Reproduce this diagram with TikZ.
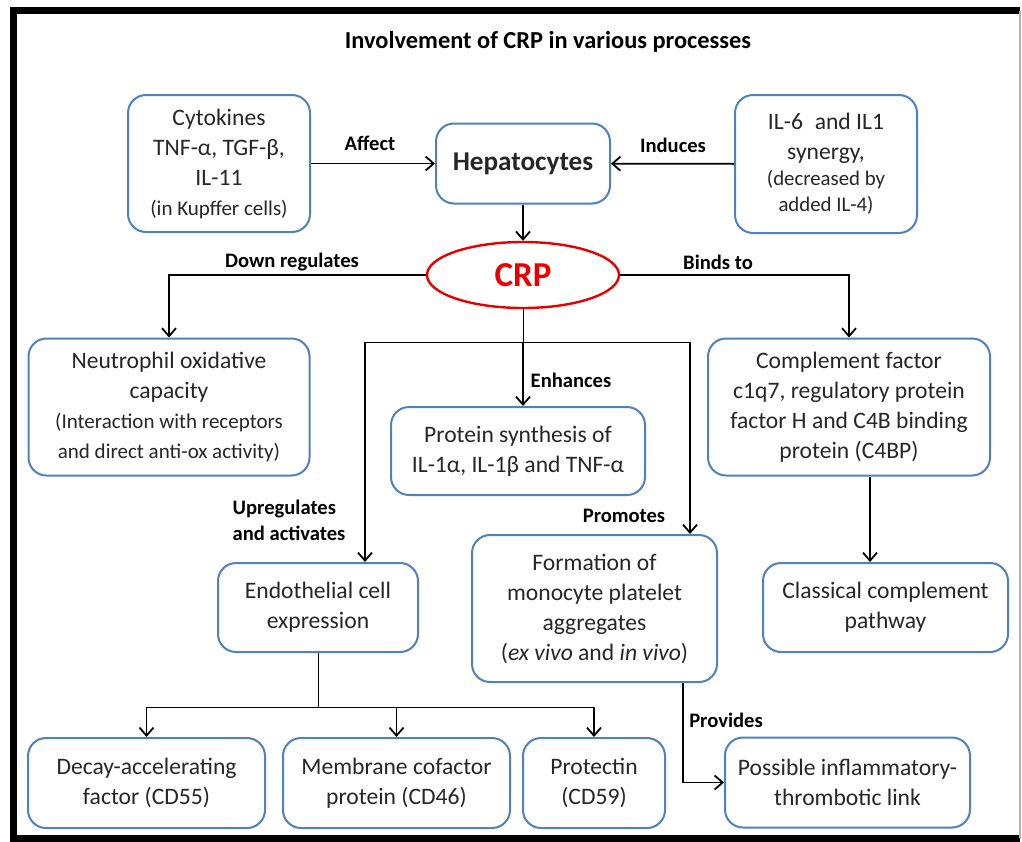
\documentclass[tikz,border=0pt]{standalone}
\usepackage{fontspec}
\setmainfont{Carlito}
\usepackage{tikz}
\usetikzlibrary{arrows.meta,shapes.geometric}
\definecolor{boxblue}{RGB}{79,129,189}
\definecolor{crpred}{RGB}{232,0,0}
\newcommand{\smalltxt}[1]{{\fontsize{10.5}{14}\selectfont #1}}
\tikzset{
  box/.style={draw=boxblue,line width=1pt,rounded corners=9pt,align=center,inner sep=0pt,
    text=black!85,font=\fontsize{11.8}{15}\selectfont},
  crpnode/.style={draw=crpred,ellipse,line width=1.2pt,inner sep=0pt,text=crpred,
    font=\fontsize{17.5}{20}\selectfont\bfseries},
  lbl/.style={font=\fontsize{10.3}{13}\selectfont\bfseries},
  link/.style={->,line width=0.9pt}
}

\begin{document}
\begin{tikzpicture}[x=0.5pt,y=-0.5pt,>={Straight Barb[length=4pt,width=7pt]}]
  \useasboundingbox (0,0) rectangle (1022,841);
  \fill[white] (0,0) rectangle (1022,841);
  \draw[line width=3.5pt] (1020,10.5) -- (13,10.5) -- (13,838) -- (1020,838);
  \draw[gray!60,line width=0.6pt] (1020,10.5) -- (1020,838);

  \node[font=\fontsize{12.2}{14}\selectfont\bfseries] (title) at (548,42) {Involvement of CRP in various processes};

  \node[box,minimum width=91pt,minimum height=68.5pt] (cyto) at (219,163.5)
    {Cytokines\\TNF-α, TGF-β,\\IL-11\\\smalltxt{(in Kupffer cells)}};
  \node[box,minimum width=87pt,minimum height=40pt,font=\fontsize{13.6}{16}\selectfont\bfseries] (hep) at (523,163.5) {Hepatocytes};
  \node[box,minimum width=91pt,minimum height=69pt] (il6) at (826,164)
    {IL-6\enspace and IL1\\synergy,\\[-2pt]{\fontsize{10.4}{13}\selectfont(decreased by}\\[-2pt]{\fontsize{10.4}{13}\selectfont added IL-4)}};
  \node[crpnode,minimum width=96pt,minimum height=33pt] (crp) at (523,275) {CRP};

  \node[box,minimum width=140.5pt,minimum height=68.5pt] (neut) at (169,407)
    {Neutrophil oxidative\\capacity\\\smalltxt{(Interaction with receptors}\\\smalltxt{and direct anti-ox activity)}};
  \node[box,minimum width=141pt,minimum height=68.5pt] (comp) at (849,407)
    {Complement factor\\c1q7, regulatory protein\\factor H and C4B binding\\protein (C4BP)};
  \node[box,minimum width=127pt,minimum height=44pt] (prot) at (518,451)
    {Protein synthesis of\\IL-1α, IL-1β and TNF-α};

  \node[box,minimum width=100pt,minimum height=44.5pt] (endo) at (318,607.5)
    {Endothelial cell\\expression};
  \node[box,minimum width=122.5pt,minimum height=73.5pt] (form) at (594.5,608.5)
    {Formation of\\monocyte platelet\\aggregates\\(\textit{ex vivo} and \textit{in vivo})};
  \node[box,minimum width=122.5pt,minimum height=44.5pt] (class) at (885.5,607.5)
    {Classical complement\\pathway};

  \node[box,minimum width=118.5pt,minimum height=45pt] (decay) at (146.5,783)
    {Decay-accelerating\\factor (CD55)};
  \node[box,minimum width=113.5pt,minimum height=45pt] (memb) at (396.5,783)
    {Membrane cofactor\\protein (CD46)};
  \node[box,minimum width=71pt,minimum height=45pt] (protc) at (594,783)
    {Protectin\\(CD59)};
  \node[box,minimum width=122.5pt,minimum height=45pt] (poss) at (847.5,782.5)
    {Possible inflammatory-\\thrombotic link};

  \node[lbl] (affect) at (370,143) {Affect};
  \node[lbl] (induces) at (673,145) {Induces};
  \node[lbl] (downreg) at (292,262) {Down regulates};
  \node[lbl] (binds) at (718,262) {Binds to};
  \node[lbl] (enh) at (571,380) {Enhances};
  \node[lbl,align=left] (upreg) at (289,520) {Upregulates\\and activates};
  \node[lbl] (prom) at (624,516) {Promotes};
  \node[lbl] (prov) at (726,720) {Provides};

  \coordinate (split) at (523,342);
  \coordinate (upl) at (365,342);
  \coordinate (upr) at (690,342);
  \coordinate (cc) at (870,0);
  \coordinate (fork) at (318,707);
  \coordinate (pv) at (683,0);

  \draw[link] (cyto) -- (hep);
  \draw[link] (il6) -- (hep);
  \draw[link] (hep) -- (crp);
  \draw[link] (crp.west) -| (neut.north);
  \draw[link] (crp.east) -| (comp.north);
  \draw (crp.south) -- (split);
  \draw (upl) -- (upr);
  \draw[link] (split) -- (split |- prot.north);
  \draw[link] (upl) -- (upl |- endo.north);
  \draw[link] (upr) -- (upr |- form.north);
  \draw[link] (comp.south -| cc) -- (class.north -| cc);
  \draw (endo.south) -- (fork);
  \draw (decay.north |- fork) -- (protc.north |- fork);
  \foreach \n in {decay,memb,protc}
    \draw[link] (\n.north |- fork) -- (\n.north);
  \draw[link] (form.south -| pv) |- (poss.west);
\end{tikzpicture}
\end{document}
